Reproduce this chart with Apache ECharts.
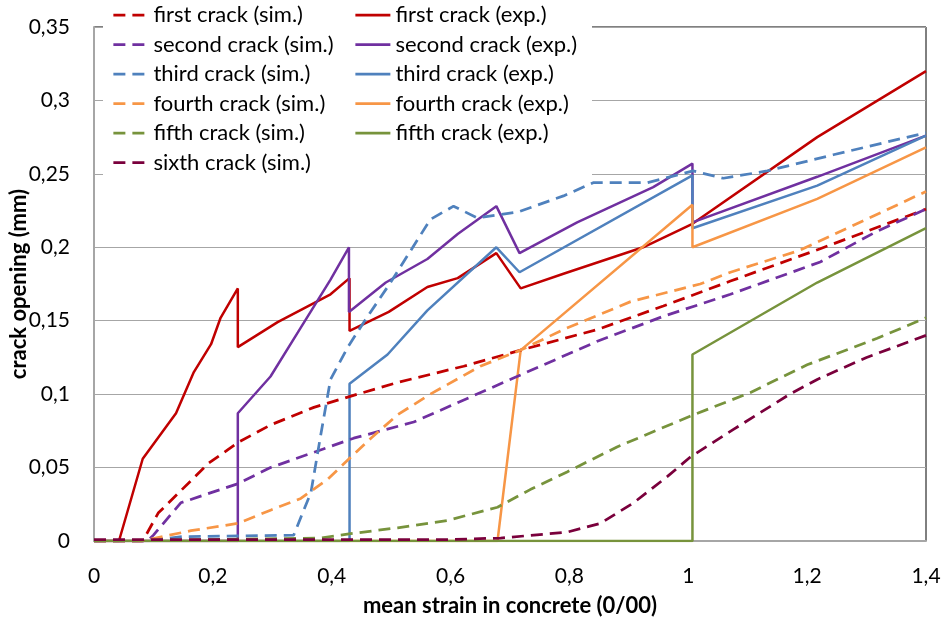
<!DOCTYPE html>
<html>
<head>
<meta charset="utf-8">
<script src="https://cdn.jsdelivr.net/npm/echarts@6/dist/echarts.min.js"></script>
<style>
html,body{margin:0;padding:0;background:#fff;}
#chart{width:942px;height:619px;}
</style>
</head>
<body>
<div id="chart"></div>
<script>
// ---- data: [mean strain (0/00), crack opening (mm)] ----
const firstCrackExp = [[0,0],[0.042,0],[0.082,0.056],[0.138,0.087],[0.168,0.115],[0.197,0.134],[0.213,0.152],[0.242,0.172],[0.242,0.132],[0.309,0.149],[0.370,0.162],[0.398,0.168],[0.430,0.179],[0.430,0.143],[0.496,0.156],[0.561,0.173],[0.612,0.179],[0.677,0.196],[0.718,0.172],[0.790,0.182],[0.924,0.200],[1.007,0.216],[1.217,0.275],[1.4,0.320]];
const secondCrackExp = [[0,0],[0.242,0],[0.242,0.087],[0.297,0.112],[0.343,0.142],[0.398,0.178],[0.429,0.200],[0.429,0.156],[0.491,0.176],[0.561,0.192],[0.612,0.209],[0.677,0.228],[0.716,0.196],[0.813,0.217],[0.941,0.241],[1.007,0.257],[1.007,0.217],[1.217,0.248],[1.4,0.276]];
const thirdCrackExp = [[0,0],[0.430,0],[0.430,0.107],[0.494,0.127],[0.561,0.157],[0.677,0.200],[0.716,0.183],[1.007,0.249],[1.007,0.213],[1.217,0.242],[1.4,0.276]];
const fourthCrackExp = [[0,0],[0.679,0],[0.718,0.130],[1.007,0.229],[1.007,0.200],[1.217,0.233],[1.4,0.268]];
const fifthCrackExp = [[0,0],[1.007,0],[1.007,0.127],[1.217,0.176],[1.4,0.213]];

const firstCrackSim = [[0,0],[0.082,0],[0.108,0.019],[0.163,0.041],[0.193,0.053],[0.242,0.067],[0.297,0.079],[0.370,0.091],[0.427,0.098],[0.511,0.108],[0.622,0.119],[0.718,0.130],[0.847,0.144],[0.958,0.160],[1.071,0.177],[1.222,0.199],[1.4,0.226]];
const secondCrackSim = [[0,0],[0.090,0],[0.100,0.004],[0.146,0.026],[0.242,0.039],[0.297,0.050],[0.437,0.070],[0.538,0.081],[0.706,0.111],[0.847,0.136],[0.958,0.153],[1.071,0.168],[1.222,0.190],[1.318,0.211],[1.4,0.226]];
const thirdCrackSim = [[0,0],[0.080,0],[0.150,0.003],[0.336,0.004],[0.365,0.033],[0.381,0.071],[0.398,0.110],[0.427,0.132],[0.454,0.149],[0.499,0.176],[0.566,0.219],[0.605,0.228],[0.645,0.220],[0.713,0.224],[0.790,0.235],[0.840,0.244],[0.931,0.244],[1.008,0.252],[1.059,0.247],[1.133,0.252],[1.244,0.263],[1.4,0.278]];
const fourthCrackSim = [[0,0],[0.080,0],[0.163,0.007],[0.242,0.012],[0.297,0.021],[0.348,0.029],[0.393,0.042],[0.432,0.057],[0.466,0.070],[0.511,0.086],[0.566,0.100],[0.650,0.119],[0.718,0.130],[0.790,0.144],[0.903,0.163],[1.020,0.175],[1.071,0.183],[1.188,0.198],[1.4,0.238]];
const fifthCrackSim = [[0,0],[0.380,0.002],[0.432,0.005],[0.511,0.009],[0.595,0.014],[0.679,0.023],[0.734,0.035],[0.796,0.047],[0.880,0.064],[1.003,0.085],[1.104,0.101],[1.200,0.120],[1.318,0.138],[1.4,0.152]];
const sixthCrackSim = [[0,0.001],[0.600,0.001],[0.684,0.002],[0.796,0.006],[0.852,0.012],[0.908,0.026],[0.965,0.044],[1.003,0.057],[1.076,0.076],[1.171,0.100],[1.217,0.110],[1.300,0.125],[1.4,0.140]];

const xTicks = {min: 0, max: 1.4, interval: 0.2};
const yTicks = {min: 0, max: 0.35, interval: 0.05};

const simNames = ['first crack (sim.)','second crack (sim.)','third crack (sim.)','fourth crack (sim.)','fifth crack (sim.)','sixth crack (sim.)'];
const expNames = ['first crack (exp.)','second crack (exp.)','third crack (exp.)','fourth crack (exp.)','fifth crack (exp.)'];
const simData = [firstCrackSim, secondCrackSim, thirdCrackSim, fourthCrackSim, fifthCrackSim, sixthCrackSim];
const expData = [firstCrackExp, secondCrackExp, thirdCrackExp, fourthCrackExp, fifthCrackExp];
const colors = ['#C00000','#7030A0','#4F81BD','#F79646','#77933C','#7A003C'];

const FONT = 'Lato, "Noto Sans", sans-serif';
const fmt = v => String(Math.round(v*100)/100).replace('.', ',');
const DASH = [12,7];

const series = [];
expData.forEach((d,i) => series.push({
  name: expNames[i], type: 'line', data: d, symbol: 'none', animation: false,
  color: colors[i], lineStyle: {color: colors[i], width: 2.5, type: 'solid'}
}));
simData.forEach((d,i) => series.push({
  name: simNames[i], type: 'line', data: d, symbol: 'none', animation: false,
  color: colors[i], lineStyle: {color: colors[i], width: 2.75, type: DASH}
}));

const legendText = {fontFamily: FONT, fontSize: 22, color: '#000'};
const legendCommon = {orient: 'vertical', top: 0, itemWidth: 35, itemHeight: 14, itemGap: 7.5,
  textStyle: legendText, z: 5, itemStyle: {opacity: 0}, selectedMode: false};
const chart = echarts.init(document.getElementById('chart'), null, {renderer: 'canvas'});
chart.setOption({
  animation: false,
  backgroundColor: '#fff',
  grid: {left: 94, right: 16, top: 27, bottom: 78, outerBoundsMode: 'none', containLabel: false,
    show: true, borderColor: '#000', borderWidth: 1, backgroundColor: 'transparent'},
  graphic: [{type: 'rect', z: 1, shape: {x: 103, y: 0, width: 489, height: 178}, style: {fill: '#fff'}, silent: true}],
  legend: [
    Object.assign({}, legendCommon, {left: 103, padding: [4, 5, 5, 9],
      data: simNames.map((n,i) => ({name: n, lineStyle: {color: colors[i], width: 2.75, type: DASH}}))}),
    Object.assign({}, legendCommon, {left: 337, padding: [4, 5, 5, 17],
      data: expNames.map((n,i) => ({name: n, lineStyle: {color: colors[i], width: 2.75, type: 'solid'}}))})
  ],
  xAxis: {
    type: 'value', min: xTicks.min, max: xTicks.max, interval: xTicks.interval,
    name: 'mean strain in concrete (0/00)', nameLocation: 'middle', nameGap: 54, nameMoveOverlap: false,
    nameTextStyle: {fontFamily: FONT, fontSize: 22, fontWeight: 'bold', color: '#000'},
    axisLine: {show: true, lineStyle: {color: '#A6A6A6', width: 2}},
    axisTick: {show: false}, splitLine: {show: false},
    axisLabel: {formatter: fmt, fontFamily: FONT, fontSize: 21, color: '#000', margin: 25}
  },
  yAxis: {
    type: 'value', min: yTicks.min, max: yTicks.max, interval: yTicks.interval,
    name: 'crack opening (mm)', nameLocation: 'middle', nameGap: 64, nameMoveOverlap: false,
    nameTextStyle: {fontFamily: FONT, fontSize: 22, fontWeight: 'bold', color: '#000'},
    axisLine: {show: true, lineStyle: {color: '#A6A6A6', width: 2}},
    axisTick: {show: false},
    splitLine: {show: true, lineStyle: {color: '#A6A6A6', width: 1}},
    axisLabel: {formatter: fmt, fontFamily: FONT, fontSize: 21, color: '#000', margin: 24}
  },
  series: series
});
</script>
</body>
</html>
